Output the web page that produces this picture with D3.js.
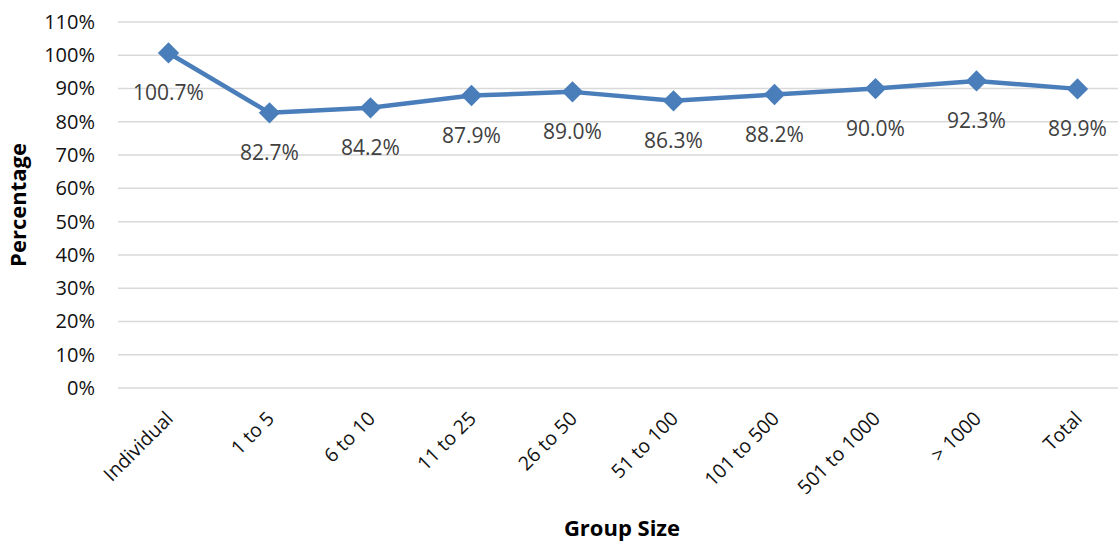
<!DOCTYPE html>
<html>
<head>
<meta charset="utf-8">
<script src="https://cdn.jsdelivr.net/npm/d3@7"></script>
<style>
  html, body { margin: 0; padding: 0; background: #fff; }
  svg { display: block; }
  text { font-family: "Open Sans", sans-serif; }
</style>
</head>
<body>
<svg id="chart" width="1118" height="544"></svg>
<script>
// Share of groups by size (percent)
const categories = ["Individual", "1 to 5", "6 to 10", "11 to 25", "26 to 50",
                    "51 to 100", "101 to 500", "501 to 1000", "> 1000", "Total"];
const values = [100.7, 82.7, 84.2, 87.9, 89.0, 86.3, 88.2, 90.0, 92.3, 89.9];
const yTicks = [0, 10, 20, 30, 40, 50, 60, 70, 80, 90, 100, 110];

const FONT = "'Open Sans', sans-serif";
const svg = d3.select("#chart");
const plot = { left: 118, right: 1128, top: 22, bottom: 388 };

const x = d3.scaleBand().domain(categories).range([plot.left, plot.right]);
const y = d3.scaleLinear().domain([0, 110]).range([plot.bottom, plot.top]);
const cx = d => x(d) + x.bandwidth() / 2;

// Horizontal gridlines
svg.append("g")
  .selectAll("line")
  .data(yTicks)
  .join("line")
  .attr("x1", plot.left).attr("x2", plot.right)
  .attr("y1", d => y(d)).attr("y2", d => y(d))
  .attr("stroke", "#d9d9d9").attr("stroke-width", 1.5);

// Y axis labels
const yAxis = d3.axisLeft(y).tickValues(yTicks).tickFormat(d => d + "%").tickSize(0).tickPadding(0);
const gy = svg.append("g").attr("transform", `translate(95,0)`).call(yAxis);
gy.select(".domain").remove();
gy.selectAll("text").attr("font-size", 20).attr("fill", "#111")
  .style("font-family", FONT);

// X axis labels, rotated
const xAxis = d3.axisBottom(x).tickSize(0).tickPadding(0);
const gx = svg.append("g").attr("transform", `translate(0,${plot.bottom})`).call(xAxis);
gx.select(".domain").remove();
gx.selectAll("text")
  .attr("font-size", 19.5).attr("fill", "#111")
  .style("font-family", FONT)
  .attr("text-anchor", "end")
  .attr("dy", "0.35em")
  .attr("transform", "translate(1,27) rotate(-45)");

// Series line
const line = d3.line().x((d, i) => cx(categories[i])).y(d => y(d));
svg.append("path")
  .datum(values)
  .attr("d", line)
  .attr("fill", "none")
  .attr("stroke", "#4a7ebb")
  .attr("stroke-width", 4.5)
  .attr("stroke-linejoin", "round");

// Diamond markers
const diamond = d3.symbol().type(d3.symbolDiamond2).size(290);
svg.append("g")
  .selectAll("path")
  .data(values)
  .join("path")
  .attr("d", diamond)
  .attr("transform", (d, i) => `translate(${cx(categories[i])},${y(d)})`)
  .attr("fill", "#4a7ebb");

// Value labels below each point
svg.append("g")
  .selectAll("text")
  .data(values)
  .join("text")
  .attr("x", (d, i) => cx(categories[i]))
  .attr("y", d => y(d) + 40)
  .attr("dy", "0.35em")
  .attr("text-anchor", "middle")
  .attr("font-size", 21)
  .attr("fill", "#404040")
  .text(d => d.toFixed(1) + "%");

// Axis titles
svg.append("text")
  .attr("transform", `translate(26,205) rotate(-90)`)
  .attr("text-anchor", "middle")
  .attr("font-size", 22).attr("font-weight", "bold").attr("fill", "#000")
  .text("Percentage");

svg.append("text")
  .attr("x", 622).attr("y", 536)
  .attr("text-anchor", "middle")
  .attr("font-size", 22).attr("font-weight", "bold").attr("fill", "#000")
  .text("Group Size");
</script>
</body>
</html>
